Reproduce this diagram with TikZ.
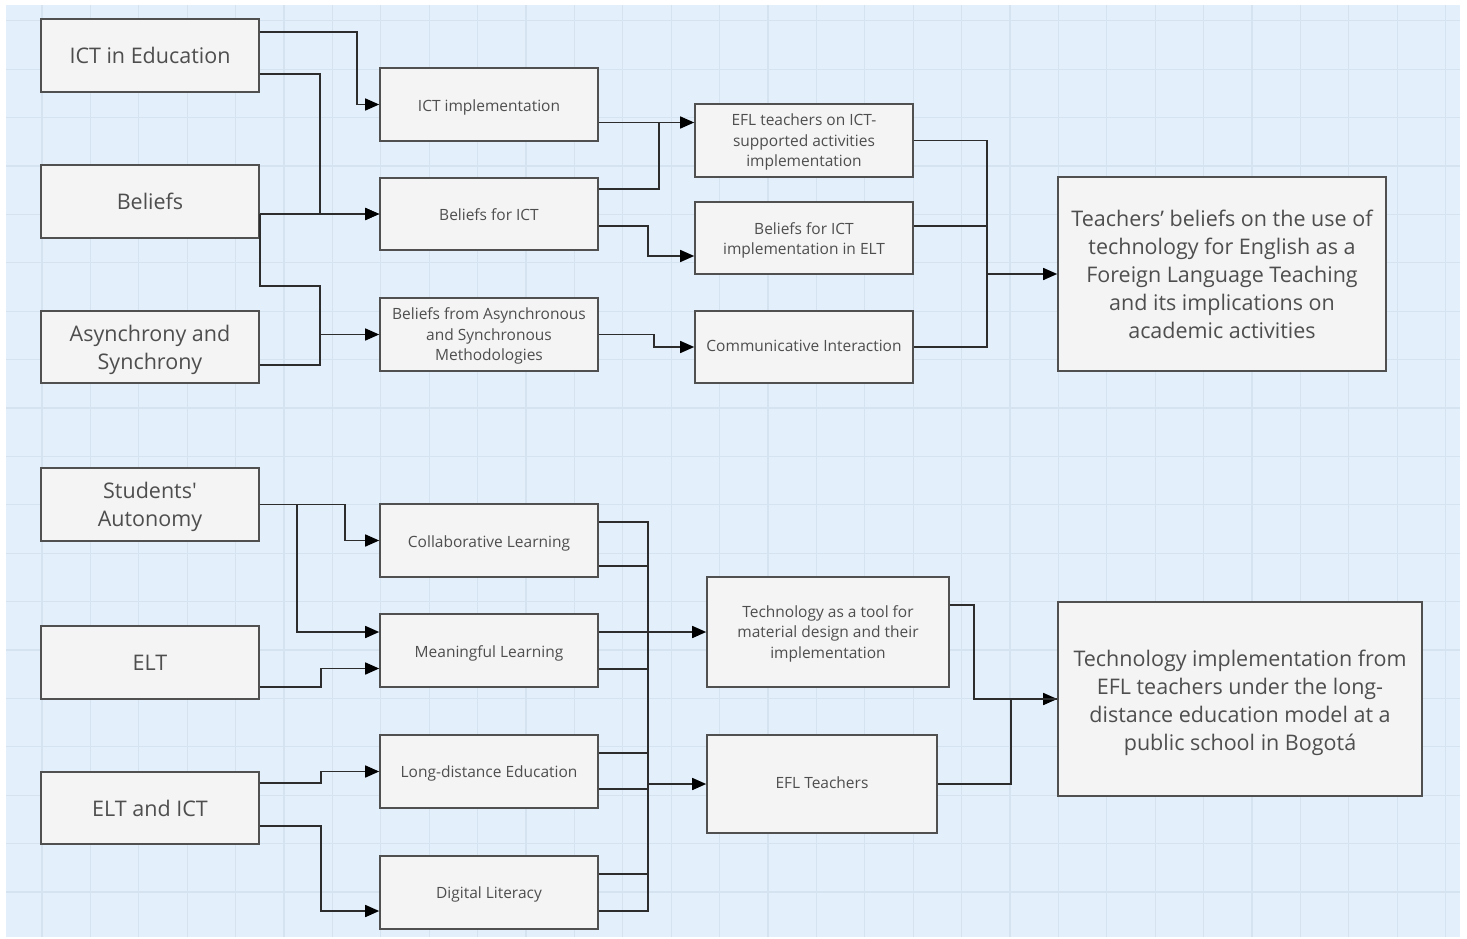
\documentclass[tikz,border=0pt]{standalone}
\usepackage{fontspec}
\setmainfont{Open Sans}[Ligatures=TeXOff]
\usetikzlibrary{arrows.meta,calc}
\definecolor{bgblue}{RGB}{227,240,252}
\definecolor{gridblue}{RGB}{213,227,240}
\definecolor{boxfill}{RGB}{244,244,244}
\definecolor{boxdraw}{RGB}{80,80,80}
\definecolor{txt}{RGB}{78,78,78}
\definecolor{lin}{RGB}{45,45,45}
\newcommand{\bx}[2][2.5pt]{\raisebox{-#1}[\height][\depth]{\begin{tabular}{@{}c@{}}#2\end{tabular}}}
\tikzset{
  box/.style={draw=boxdraw, fill=boxfill, line width=1.6pt, inner sep=0pt, align=center, text=txt},
  bigbox/.style={box, font=\fontsize{21.5}{28}\selectfont},
  smallbox/.style={box, font=\fontsize{15.5}{20.5}\selectfont},
  ln/.style={draw=lin, line width=1.5pt},
  arr/.style={ln, -{Triangle[length=14pt,width=12pt,color=black]}}
}
\begin{document}
\begin{tikzpicture}[x=1pt,y=-1pt]
\useasboundingbox (0,0) rectangle (1467,938);
\fill[white] (0,0) rectangle (1467,938);
\fill[bgblue] (6,5) rectangle (1460,937);
\foreach \i in {0,...,29} {\draw[gridblue, line width=1.2pt] ({42+48.4*\i},5) -- ({42+48.4*\i},937);}
\foreach \j in {0,...,18} {\draw[gridblue, line width=1.2pt] (6,{20.8+48.4*\j}) -- (1460,{20.8+48.4*\j});}

% top section
\node[bigbox, minimum width=218pt, minimum height=73pt] (ict) at (150,55.5) {\bx{ICT in Education}};
\node[bigbox, minimum width=218pt, minimum height=73pt] (bel) at (150,201.5) {\bx{Beliefs}};
\node[bigbox, minimum width=218pt, minimum height=72pt] (async) at (150,347) {\bx{Asynchrony and\\Synchrony}};
\node[smallbox, minimum width=218pt, minimum height=73pt] (icti) at (489,104.5) {\bx{ICT implementation}};
\node[smallbox, minimum width=218pt, minimum height=72pt] (bict) at (489,214) {\bx{Beliefs for ICT}};
\node[smallbox, minimum width=218pt, minimum height=73pt] (basync) at (489,334.5) {\bx[1.5pt]{Beliefs from Asynchronous\\and Synchronous\\Methodologies}};
\node[smallbox, minimum width=218pt, minimum height=73pt] (efl) at (804,140.5) {\bx[1.5pt]{EFL teachers on ICT-\\supported activities\\implementation}};
\node[smallbox, minimum width=218pt, minimum height=72pt] (bielt) at (804,238) {\bx{Beliefs for ICT\\implementation in ELT}};
\node[smallbox, minimum width=218pt, minimum height=72pt] (comm) at (804,347) {\bx[0pt]{Communicative Interaction}};
\node[bigbox, minimum width=328pt, minimum height=194pt] (res1) at (1222,274) {\bx[3pt]{Teachers’ beliefs on the use of\\technology for English as a\\Foreign Language Teaching\\and its implications on\\academic activities}};

% bottom section
\node[bigbox, minimum width=218pt, minimum height=73pt] (stud) at (150,504.5) {\bx{Students'\\Autonomy}};
\node[bigbox, minimum width=218pt, minimum height=73pt] (elt) at (150,662.5) {\bx{ELT}};
\node[bigbox, minimum width=218pt, minimum height=72pt] (eltict) at (150,808) {\bx{ELT and ICT}};
\node[smallbox, minimum width=218pt, minimum height=73pt] (collab) at (489,540.5) {\bx{Collaborative Learning}};
\node[smallbox, minimum width=218pt, minimum height=73pt] (mean) at (489,650.5) {\bx{Meaningful Learning}};
\node[smallbox, minimum width=218pt, minimum height=73pt] (long) at (489,771.5) {\bx[1.5pt]{Long-distance Education}};
\node[smallbox, minimum width=218pt, minimum height=73pt] (digi) at (489,892.5) {\bx[1.5pt]{Digital Literacy}};
\node[smallbox, minimum width=242pt, minimum height=110pt] (tech) at (828,632) {\bx[1.5pt]{Technology as a tool for\\material design and their\\implementation}};
\node[smallbox, minimum width=230pt, minimum height=98pt] (eflt) at (822,784) {\bx[0pt]{EFL Teachers}};
\node[bigbox, minimum width=364pt, minimum height=194pt] (res2) at (1240,699) {\bx[3.5pt]{Technology implementation from\\EFL teachers under the long-\\distance education model at a\\public school in Bogotá}};

% top connectors
\draw[arr] ($(ict.east)+(0,-23.5)$) -- ++(97,0) |- (icti.west);
\draw[arr] ($(ict.east)+(0,18.5)$) -- ++(60,0) |- (bict.west);
\draw[arr] (bel.east |- bict.west) -- (bict.west);
\draw[arr] (bel.east |- bict.west) -- ++(0,72) -- ++(60,0) |- (basync.west);
\draw[ln] ($(async.east)+(0,18)$) -- ++(60,0) -- ++(0,-30.5);

\draw[arr] ($(icti.east)+(0,18)$) -- ($(efl.west)+(0,-18)$);
\draw[ln] ($(bict.east)+(0,-25)$) -- ++(60,0) -- ++(0,-66.5);
\draw[arr] ($(bict.east)+(0,12)$) -- ++(49,0) |- ($(bielt.west)+(0,18)$);
\draw[arr] (basync.east) -- ++(55,0) |- (comm.west);

\coordinate (j1) at ($(efl.east)+(73,0)$);
\draw[ln] (efl.east) -- (j1) |- (comm.east);
\draw[ln] ($(bielt.east)+(0,-12)$) -- ++(73,0);
\draw[arr] (j1 |- res1.west) -- (res1.west);

% bottom connectors
\draw[arr] (stud.east) -- ++(85,0) |- (collab.west);
\draw[arr] (stud.east) -- ++(37,0) |- ($(mean.west)+(0,-18.5)$);
\draw[arr] ($(elt.east)+(0,24.5)$) -- ++(61,0) |- ($(mean.west)+(0,18)$);
\draw[arr] ($(eltict.east)+(0,-25)$) -- ++(61,0) |- (long.west);
\draw[arr] ($(eltict.east)+(0,18)$) -- ++(61,0) |- ($(digi.west)+(0,18.5)$);

\coordinate (bus) at ($(collab.east)+(49,0)$);
\draw[ln] ($(collab.east)+(0,-18.5)$) -| ($(digi.east)+(49,18.5)$) -- ($(digi.east)+(0,18.5)$);
\draw[ln] ($(collab.east)+(0,25.5)$) -- ++(49,0);
\draw[ln] ($(mean.east)+(0,18.5)$) -- ++(49,0);
\draw[ln] ($(long.east)+(0,-18.5)$) -- ++(49,0);
\draw[ln] ($(long.east)+(0,17.5)$) -- ++(49,0);
\draw[ln] ($(digi.east)+(0,-18.5)$) -- ++(49,0);
\draw[arr] ($(mean.east)+(0,-18.5)$) -- (tech.west);
\draw[arr] (bus |- eflt.west) -- (eflt.west);

\draw[arr] ($(tech.east)+(0,-27)$) -- ++(24,0) |- (res2.west);
\draw[ln] (eflt.east) -- ++(73,0) |- (res2.west);
\end{tikzpicture}
\end{document}
